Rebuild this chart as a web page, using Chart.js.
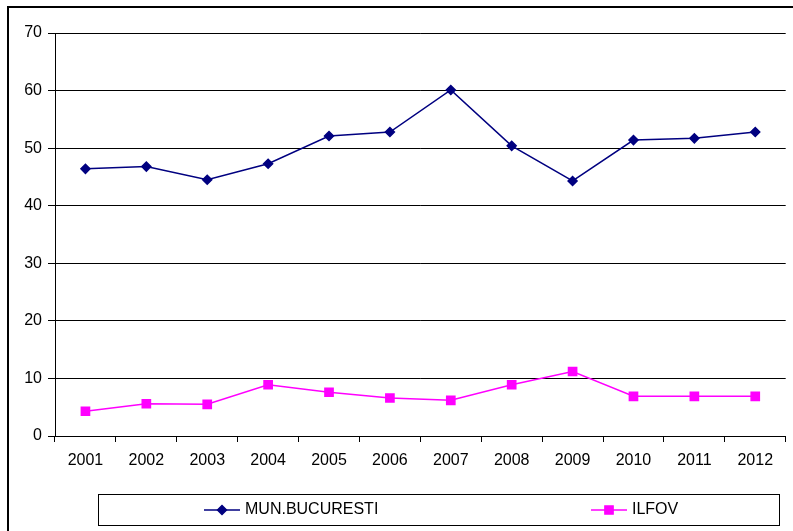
<!DOCTYPE html>
<html>
<head>
<meta charset="utf-8">
<script src="https://cdn.jsdelivr.net/npm/chart.js@4/dist/chart.umd.min.js"></script>
<style>
  html, body { margin: 0; padding: 0; background: #fff; overflow: hidden; }
  #wrap { position: relative; width: 793px; height: 531px; }
  #frame { position: absolute; left: 7px; top: 6px; width: 1000px; height: 1000px;
           border: 2px solid #000; box-sizing: border-box; pointer-events: none; }
  canvas { position: absolute; left: 0; top: 0; }
</style>
</head>
<body>
<div id="wrap">
  <canvas id="c" width="793" height="531"></canvas>
  <div id="frame"></div>
</div>
<script>
// Years on the category axis
const years = ['2001','2002','2003','2004','2005','2006','2007','2008','2009','2010','2011','2012'];
// Series values
const bucuresti = [46.4, 46.8, 44.5, 47.3, 52.1, 52.8, 60.1, 50.4, 44.3, 51.4, 51.7, 52.8];
const ilfov     = [4.3, 5.6, 5.5, 8.9, 7.6, 6.6, 6.2, 8.9, 11.2, 6.9, 6.9, 6.9];
// Value axis ticks
const yTicks = [0, 10, 20, 30, 40, 50, 60, 70];

const FONT = 'Liberation Sans, Arial, sans-serif';
const FONT_SIZE = 16;

// Boxed legend drawn beneath the plot
const boxLegend = {
  id: 'boxLegend',
  afterDraw(chart) {
    const ctx = chart.ctx;
    const bx = 98.5, by = 494.5, bw = 681, bh = 31;
    ctx.save();
    ctx.strokeStyle = '#000';
    ctx.lineWidth = 1;
    ctx.strokeRect(bx, by, bw, bh);
    const cy = by + bh / 2;
    const starts = [204, 591];
    chart.data.datasets.forEach((ds, i) => {
      const x0 = starts[i];
      ctx.strokeStyle = ds.borderColor;
      ctx.lineWidth = ds.borderWidth;
      ctx.beginPath();
      ctx.moveTo(x0, cy);
      ctx.lineTo(x0 + 36, cy);
      ctx.stroke();
      ctx.fillStyle = ds.pointBackgroundColor;
      ctx.strokeStyle = ds.pointBorderColor;
      Chart.helpers.drawPoint(ctx, {
        pointStyle: ds.pointStyle, radius: ds.pointRadius, borderWidth: 1
      }, x0 + 18, cy);
      ctx.fillStyle = '#000';
      ctx.font = FONT_SIZE + 'px ' + FONT;
      ctx.textBaseline = 'middle';
      ctx.textAlign = 'left';
      ctx.fillText(ds.label, x0 + 41, cy);
    });
    ctx.restore();
  }
};

new Chart(document.getElementById('c'), {
  type: 'line',
  data: {
    labels: years,
    datasets: [
      {
        label: 'MUN.BUCURESTI',
        data: bucuresti,
        borderColor: '#000080',
        backgroundColor: '#000080',
        pointBackgroundColor: '#000080',
        pointBorderColor: '#000080',
        borderWidth: 1.5,
        pointStyle: 'rectRot',
        pointRadius: 4.5,
        pointHoverRadius: 4.5,
        tension: 0
      },
      {
        label: 'ILFOV',
        data: ilfov,
        borderColor: '#FF00FF',
        backgroundColor: '#FF00FF',
        pointBackgroundColor: '#FF00FF',
        pointBorderColor: '#FF00FF',
        borderWidth: 1.5,
        pointStyle: 'rect',
        pointRadius: 5.8,
        pointHoverRadius: 5.8,
        tension: 0
      }
    ]
  },
  options: {
    responsive: false,
    animation: false,
    devicePixelRatio: 1,
    layout: { padding: { left: 0, right: 6, top: 33, bottom: 55 } },
    plugins: {
      legend: { display: false },
      tooltip: { enabled: false }
    },
    scales: {
      x: {
        offset: true,
        grid: {
          offset: true,
          drawOnChartArea: false,
          drawTicks: true,
          tickLength: 6,
          color: '#000'
        },
        border: { color: '#000', width: 1 },
        ticks: {
          color: '#000',
          font: { family: FONT, size: FONT_SIZE },
          padding: 9,
          maxRotation: 0,
          autoSkip: false
        },
        afterFit(scale) { scale.height = 40; }
      },
      y: {
        min: 0,
        max: 70,
        afterBuildTicks(scale) { scale.ticks = yTicks.map(v => ({ value: v })); },
        grid: {
          color: '#000',
          lineWidth: 1,
          drawTicks: true,
          tickLength: 7
        },
        border: { color: '#000', width: 1 },
        ticks: {
          color: '#000',
          font: { family: FONT, size: FONT_SIZE },
          padding: 6
        },
        afterFit(scale) { scale.width = 55; }
      }
    }
  },
  plugins: [boxLegend]
});
</script>
</body>
</html>
